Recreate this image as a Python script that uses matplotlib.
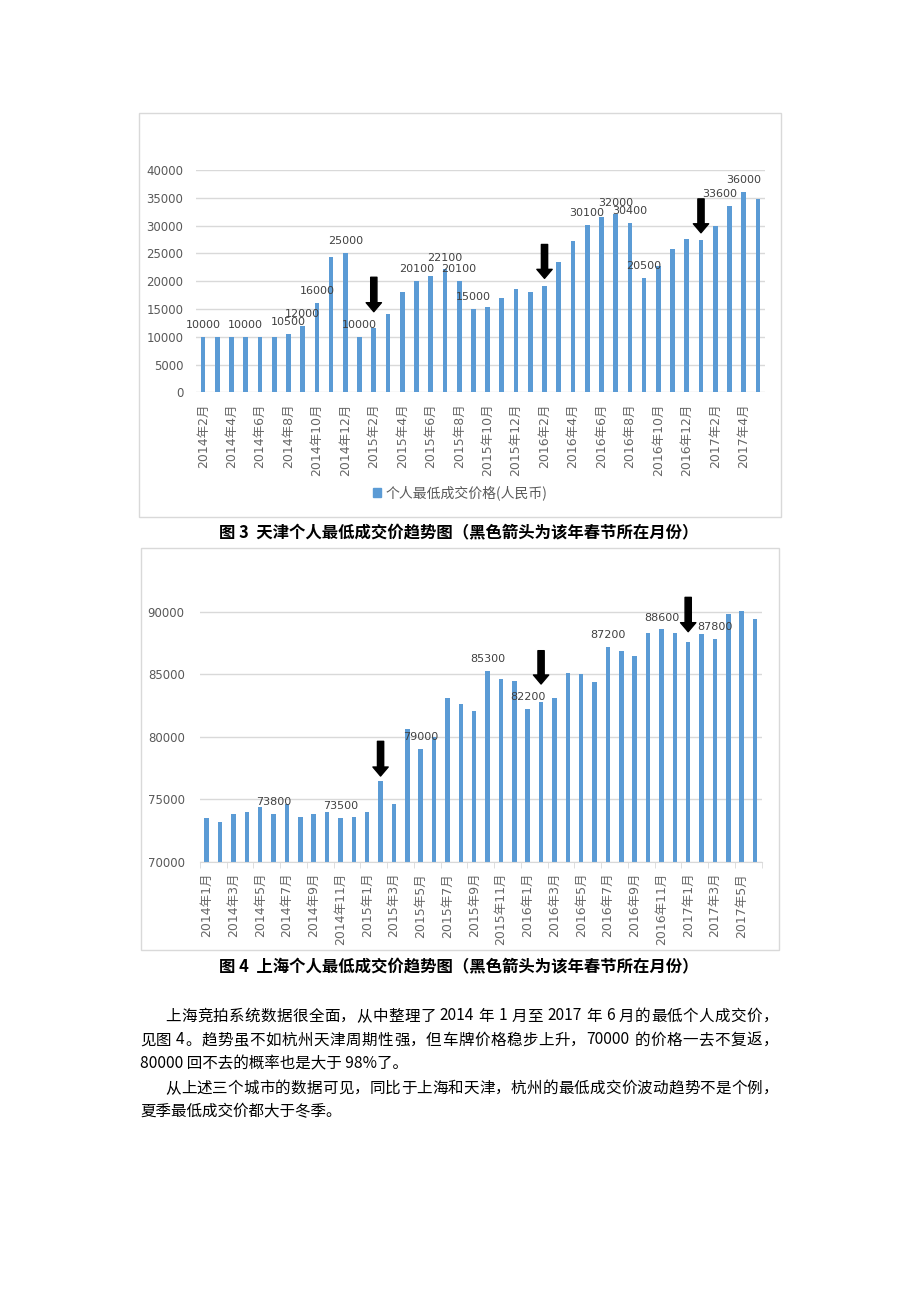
import re
import matplotlib
matplotlib.use("Agg")
import matplotlib.pyplot as plt
from matplotlib.patches import Rectangle, Patch

plt.rcParams['font.family'] = ['DejaVu Sans', 'Noto Sans CJK SC']

# 天津: 2014年2月 .. 2017年5月, one bar per month
tj_ticks = ["2014年2月", "2014年4月", "2014年6月", "2014年8月", "2014年10月", "2014年12月",
            "2015年2月", "2015年4月", "2015年6月", "2015年8月", "2015年10月", "2015年12月",
            "2016年2月", "2016年4月", "2016年6月", "2016年8月", "2016年10月", "2016年12月",
            "2017年2月", "2017年4月"]
tj_values = [10000, 10000, 10000, 10000, 10000, 10000, 10500, 12000, 16000, 24300,
             25000, 10000, 11500, 14100, 18000, 20100, 21000, 22100, 20100, 15000,
             15400, 17000, 18500, 18000, 19200, 23400, 27200, 30100, 31500, 32000,
             30400, 20500, 22800, 25700, 27600, 27400, 30000, 33600, 36000, 34700]
tj_labeled = [0, 3, 6, 7, 8, 10, 11, 15, 17, 18, 19, 27, 29, 30, 31, 37, 38]
tj_spring = [12, 24, 35]
tj_arrow_top = [20700, 26600, 34800]
tj_arrow_tip = [14500, 20500, 28700]

# 上海: 2014年1月 .. 2017年6月
sh_ticks = ["2014年1月", "2014年3月", "2014年5月", "2014年7月", "2014年9月", "2014年11月",
            "2015年1月", "2015年3月", "2015年5月", "2015年7月", "2015年9月", "2015年11月",
            "2016年1月", "2016年3月", "2016年5月", "2016年7月", "2016年9月", "2016年11月",
            "2017年1月", "2017年3月", "2017年5月"]
sh_values = [73500, 73200, 73800, 74000, 74400, 73800, 74600, 73600, 73800, 74000,
             73500, 73600, 74000, 76500, 74600, 80600, 79000, 80000, 83100, 82600,
             82100, 85300, 84600, 84500, 82200, 82800, 83100, 85100, 85000, 84400,
             87200, 86900, 86500, 88300, 88600, 88300, 87600, 88200, 87800, 89800,
             90100, 89400]
sh_labeled = [5, 10, 16, 21, 24, 30, 34, 38]
sh_spring = [13, 25, 36]
sh_arrow_top = [79640, 86900, 91170]
sh_arrow_tip = [76860, 84230, 88420]

BLUE = '#5B9BD5'
GRID = '#D9D9D9'
TXT = '#595959'
W, H = 920, 1302


def fbox(x0, y0, x1, y1):
    # pixel box (top-left origin) -> figure fraction rect
    return [x0 / W, 1 - y1 / H, (x1 - x0) / W, (y1 - y0) / H]


def draw_bars(ax, values, labeled, spring, tops, tips, ticks, shift={}):
    xs = list(range(len(values)))
    ax.bar(xs, values, width=0.33, color=BLUE, zorder=2)
    for i in labeled:
        ax.annotate(str(values[i]), (i, values[i]), xytext=(shift.get(i, 0), 5),
                    textcoords='offset points', ha='center', va='bottom',
                    fontsize=8, color='#404040', zorder=4)
    for i, t, b in zip(spring, tops, tips):
        ax.annotate('', xy=(i, b), xytext=(i, t),
                    arrowprops=dict(facecolor='black', edgecolor='black', width=4.5,
                                    headwidth=11, headlength=6.5),
                    annotation_clip=False, zorder=5)
    ax.set_xlim(-0.5, len(values) - 0.5)
    ax.set_xticks(xs[::2])
    ax.set_xticklabels(ticks[:len(xs[::2])], rotation=90, fontsize=9, color='#666666')
    ax.yaxis.grid(True, color=GRID, lw=1, zorder=0)
    for s in ['top', 'right', 'left', 'bottom']:
        ax.spines[s].set_visible(False)
    ax.tick_params(axis='y', length=0, labelsize=8.5, labelcolor=TXT)


fig = plt.figure(figsize=(9.2, 13.02), dpi=100)
renderer = fig.canvas.get_renderer()

# chart frames
for (x0, y0, x1, y1) in [(139, 113, 781, 517), (141, 548, 779, 950)]:
    fig.add_artist(Rectangle((x0 / W, 1 - y1 / H), (x1 - x0) / W, (y1 - y0) / H,
                             transform=fig.transFigure, fill=False, edgecolor=GRID, lw=1))

# 图3 天津
ax1 = fig.add_axes(fbox(196, 170, 765, 392.3))
draw_bars(ax1, tj_values, tj_labeled, tj_spring, tj_arrow_top, tj_arrow_tip, tj_ticks,
          shift={37: -7})
ax1.set_ylim(0, 40000)
ax1.set_yticks(range(0, 40001, 5000))
ax1.tick_params(axis='y', pad=9)
ax1.tick_params(axis='x', length=0, pad=8)
fig.legend(handles=[Patch(color=BLUE, label='个人最低成交价格(人民币)')],
           loc='center', bbox_to_anchor=(460 / W, 1 - 493 / H), frameon=False,
           handlelength=0.6, handleheight=0.6, handletextpad=0.3,
           prop={'family': 'Noto Sans CJK SC', 'size': 10}, labelcolor=TXT)

# 图4 上海
ax2 = fig.add_axes(fbox(200, 587, 761.75, 861.7))
draw_bars(ax2, sh_values, sh_labeled, sh_spring, sh_arrow_top, sh_arrow_tip, sh_ticks)
ax2.set_ylim(70000, 92000)
ax2.set_yticks(range(70000, 90001, 5000))
ax2.tick_params(axis='y', pad=11)
ax2.spines['bottom'].set_visible(True)
ax2.spines['bottom'].set_color(GRID)
ax2.set_xticks([i - 0.5 for i in range(0, len(sh_values) + 1, 2)], minor=True)
ax2.tick_params(axis='x', which='major', length=0, pad=8)
ax2.tick_params(axis='x', which='minor', length=4, color=GRID)

cap = dict(family='Noto Sans CJK SC', fontsize=11.8, fontweight='bold', ha='center', va='center')
fig.text(459 / W, 1 - 533 / H, '图 3  天津个人最低成交价趋势图（黑色箭头为该年春节所在月份）', **cap)
fig.text(459 / W, 1 - 967 / H, '图 4  上海个人最低成交价趋势图（黑色箭头为该年春节所在月份）', **cap)

para = [
    (165, 1016, '上海竞拍系统数据很全面，从中整理了 2014 年 1 月至 2017 年 6 月的最低个人成交价，', True),
    (140, 1040, '见图 4。趋势虽不如杭州天津周期性强，但车牌价格稳步上升，70000 的价格一去不复返，', True),
    (140, 1064, '80000 回不去的概率也是大于 98%了。', False),
    (165, 1088, '从上述三个城市的数据可见，同比于上海和天津，杭州的最低成交价波动趋势不是个例，', True),
    (140, 1112, '夏季最低成交价都大于冬季。', False),
]
RIGHT = 778
ptxt = dict(family='Noto Sans CJK SC', fontsize=11.2, va='center', ha='left', color='black')
for x, y, s, just in para:
    if not just:
        fig.text(x / W, 1 - y / H, s, **ptxt)
        continue
    # justified line: spread the leftover room over the gaps between tokens
    tokens = re.findall(r' |[!-~]+|[^\x00-\x7f]', s)
    arts, widths = [], []
    for tk in tokens:
        if tk == ' ':
            arts.append(None)
            widths.append(3.5)
            continue
        t = fig.text(0, 1 - y / H, tk, **ptxt)
        arts.append(t)
        widths.append(t.get_window_extent(renderer).width)
    gap = (RIGHT - x - sum(widths)) / (len(tokens) - 1)
    cx = x
    for t, w in zip(arts, widths):
        if t is not None:
            t.set_x(cx / W)
        cx += w + gap

fig.savefig('out.png', dpi=100)
